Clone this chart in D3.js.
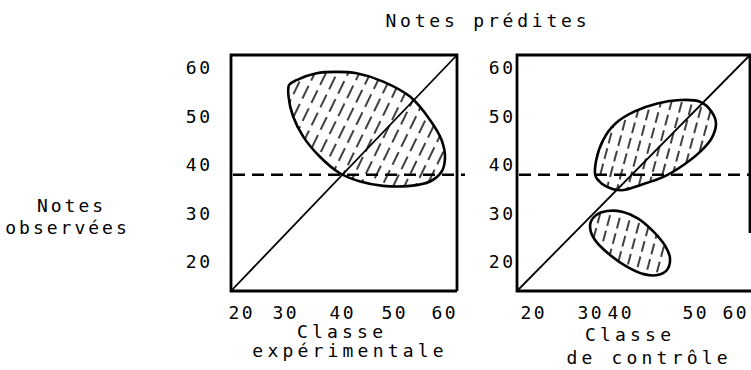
<!DOCTYPE html>
<html><head><meta charset="utf-8">
<script src="https://cdn.jsdelivr.net/npm/d3@7"></script>
<style>body{margin:0;background:#fff} svg{display:block}</style>
</head><body><svg id="c" width="751" height="370"></svg>
<script>
// ---- data ----
const yTicks = [20, 30, 40, 50, 60];
const xTicks = [20, 30, 40, 50, 60];
const cutoff = 38;
const mainTitle = "Notes prédites";
const yTitle = ["Notes", "observées"];
const panelTitles = [["Classe", "expérimentale"], ["Classe", "de contrôle"]];
// outlines of the score clouds (x = predicted, y = observed)
const expCloud = [[30.9,56.5],[32.2,57.5],[35.7,58.9],[39.2,59.2],[43.0,58.9],[48.1,57.2],[53.4,54.1],[57.4,49.3],[59.7,45.2],[60.4,41.4],[59.7,38.6],[57.4,36.6],[53.4,35.7],[48.1,35.7],[43.7,36.6],[39.8,38.3],[36.3,41.7],[33.4,45.8],[31.6,50.0],[30.8,54.1]];
const ctrlUpper = [[32.1,37.9],[32.4,41.0],[34.75,45.2],[38.9,48.6],[42.0,51.0],[45.1,52.7],[48.2,53.4],[51.5,53.05],[54.4,51.0],[55.5,48.6],[54.4,45.5],[51.5,42.7],[48.6,40.0],[46.0,37.6],[42.9,35.9],[40.3,34.8],[36.0,35.5],[33.0,36.9]];
const ctrlLower = [[30.6,28.3],[32.4,29.7],[36.0,30.5],[40.3,30.4],[42.5,29.0],[44.6,26.25],[46.2,23.2],[46.8,20.8],[46.4,18.35],[45.1,17.3],[43.3,17.5],[41.1,19.0],[37.1,21.4],[32.4,24.2],[30.6,26.25]];

// ---- layout ----
const FONT = "'DejaVu Sans Mono', 'Liberation Mono', monospace";
const FS = 18, LS = 3.8, TLS = 2.6;
const svg = d3.select("#c");
const y = d3.scaleLinear().domain([20, 60]).range([262, 68]);
const panels = [
  {x0:231, x1:457, y0:55, y1:291, xr:[240,284,341,393,443], labRight:210, dashEnd:465, rightEdgeEnd:291,
   clouds:[expCloud], hatch:"hA", titleX:[340,348], titleY:[338,357]},
  {x0:517, x1:750, y0:55, y1:291, xr:[532,589,619,694,734], labRight:513, dashEnd:751, rightEdgeEnd:233,
   clouds:[ctrlUpper, ctrlLower], hatch:"hB", titleX:[628,647], titleY:[341,364]}
];

const defs = svg.append("defs");
function hatch(id, angle, w, h, len){
  const p = defs.append("pattern").attr("id", id).attr("patternUnits","userSpaceOnUse")
    .attr("width", w).attr("height", h).attr("patternTransform", `rotate(${angle})`);
  p.append("line").attr("x1", w/2).attr("x2", w/2).attr("y1", 2).attr("y2", 2+len)
    .attr("stroke", "#000").attr("stroke-width", 1.5);
}
hatch("hA", 26, 10, 20, 14);
hatch("hB", 15, 10, 16, 11);

const txt = (g) => g.attr("font-family", FONT).attr("font-size", FS).attr("letter-spacing", LS).attr("fill", "#000");

panels.forEach((P, pi) => {
  const x = d3.scaleLinear().domain(xTicks).range(P.xr);
  const g = svg.append("g");
  const line = d3.line().x(d => x(d[0])).y(d => y(d[1])).curve(d3.curveCatmullRomClosed.alpha(0.5));
  P.clouds.forEach(c => {
    g.append("path").attr("d", line(c)).attr("fill", `url(#${P.hatch})`)
      .attr("stroke", "#000").attr("stroke-width", 2.6).attr("stroke-linejoin","round");
  });
  // identity line corner to corner
  const diag = [[x.invert(P.x0), y.invert(P.y1)], [x.invert(P.x1), y.invert(P.y0)]];
  g.append("line").attr("x1", x(diag[0][0])).attr("y1", y(diag[0][1]))
    .attr("x2", x(diag[1][0])).attr("y2", y(diag[1][1]))
    .attr("stroke", "#000").attr("stroke-width", 1.8);
  // cutoff dashed line
  g.append("line").attr("x1", P.x0 + 2).attr("x2", P.dashEnd).attr("y1", y(cutoff)).attr("y2", y(cutoff))
    .attr("stroke", "#000").attr("stroke-width", 2.6).attr("stroke-dasharray", "12,7");
  // frame
  g.append("path")
    .attr("d", `M${P.x1},${P.rightEdgeEnd}V${P.y0}H${P.x0}V${P.y1}H${P.x1 + (P.rightEdgeEnd < P.y1 ? 1 : 0)}`)
    .attr("fill", "none").attr("stroke", "#000").attr("stroke-width", 2.8);
  // y axis labels
  const ya = svg.append("g").attr("transform", `translate(${P.labRight + TLS},0)`)
    .call(d3.axisLeft(y).tickValues(yTicks).tickSize(0).tickPadding(0));
  ya.select(".domain").remove();
  ya.selectAll("text").call(txt).attr("letter-spacing", TLS);
  // x axis labels
  const xa = svg.append("g").attr("transform", `translate(0,${P.y1})`)
    .call(d3.axisBottom(x).tickValues(xTicks).tickSize(0).tickPadding(15));
  xa.select(".domain").remove();
  xa.selectAll("text").call(txt).attr("letter-spacing", TLS).attr("dx", TLS/2);
  // panel titles
  panelTitles[pi].forEach((t, i) => {
    svg.append("text").call(txt).attr("letter-spacing", 4.2).attr("x", P.titleX[i]).attr("dx", 2.1).attr("y", P.titleY[i])
      .attr("text-anchor", "middle").text(t);
  });
});

svg.append("text").call(txt).attr("x", 486).attr("dx", LS/2).attr("y", 27).attr("text-anchor","middle").text(mainTitle);
yTitle.forEach((t, i) => {
  svg.append("text").call(txt).attr("letter-spacing", 3).attr("x", i ? 66 : 70).attr("dx", 1.5)
    .attr("y", i ? 234 : 212).attr("text-anchor", "middle").text(t);
});
</script></body></html>
